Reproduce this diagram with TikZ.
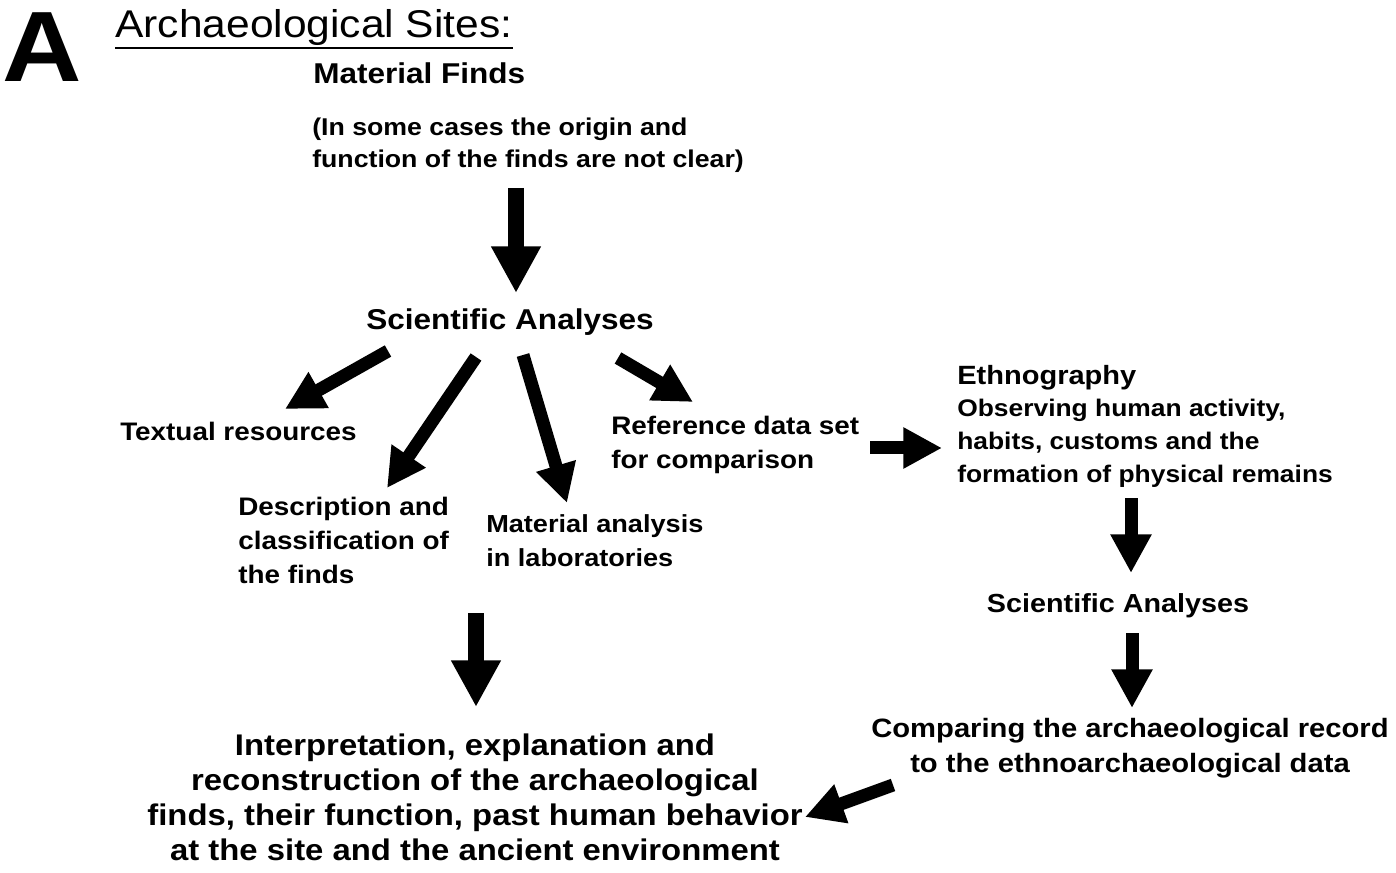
\documentclass[tikz,border=0pt]{standalone}
\usepackage{fontspec}
\setmainfont[FakeStretch=1.1]{Liberation Sans}
\usepackage{tikz}
\usetikzlibrary{arrows.meta}

\begin{document}
\begin{tikzpicture}[x=0.75pt,y=-0.75pt,
  txt node/.style={inner sep=0pt, anchor=west, align=left, font=\bfseries\fontsize{19}{25.5}\selectfont},
  head node/.style={inner sep=0pt, font=\bfseries\fontsize{21.5}{26}\selectfont},
  thin arrow/.style={line width=9.75pt, -{Triangle[length=29pt,width=29pt]}},
  fat arrow/.style={line width=12pt, -{Triangle[length=35pt,width=35pt]}}]
			\useasboundingbox (0,0) rectangle (1396,873);
			% Nodes
			\node[inner sep=0pt, font=\bfseries\fontsize{75}{75}\selectfont] (letter) at (42,47) {A};
			\node[inner sep=0pt, anchor=base west, font=\fontsize{29}{34}\selectfont] (sites) at (115,38) {Archaeological Sites:};
			\draw[line width=1.8pt] ([shift={(0,2)}]sites.south west) -- ([shift={(0,2)}]sites.south east);
			
			\node[head node, anchor=west] (finds) at (313,73) {Material Finds};
			\node[txt node, font=\bfseries\fontsize{18.2}{24}\selectfont] (note) at (312,145) {(In some cases the origin and\\function of the finds are not clear)};
			\node[head node] (sci) at (510,322) {Scientific Analyses};
			
			\node[txt node] (text) at (120,431) {Textual resources};
			\node[txt node] (descr) at (238,540) {Description and\\classification of\\the finds};
			\node[txt node, font=\bfseries\fontsize{18.5}{25.5}\selectfont] (lab) at (486,541) {Material analysis\\in laboratories};
			\node[txt node] (ref) at (611,445) {Reference data set\\for comparison};
			
			\node[txt node, font=\bfseries\fontsize{19.8}{24}\selectfont] (ethno) at (957,378) {Ethnography};
			\node[txt node, font=\bfseries\fontsize{18}{24.75}\selectfont] (observe) at (957,443) {Observing human activity,\\habits, customs and the\\formation of physical remains};
			\node[inner sep=0pt, font=\bfseries\fontsize{19.6}{24}\selectfont] (sci2) at (1118,606) {Scientific Analyses};
			\node[inner sep=0pt, align=center, font=\bfseries\fontsize{19.9}{26.25}\selectfont] (compare) at (1130,748) {Comparing the archaeological record\\to the ethnoarchaeological data};
			
			\node[inner sep=0pt, align=center, font=\bfseries\fontsize{22.4}{26.25}\selectfont] (interp) at (475,797) {Interpretation, explanation and\\reconstruction of the archaeological\\finds, their function, past human behavior\\at the site and the ancient environment};
			
			% Arrows
			\draw[fat arrow] ([shift={(204,43)}]note.west) -- ([shift={(6,-29)}]sci.center);
			\draw[thin arrow] ([shift={(-122,29)}]sci.center) -- ([shift={(165,-22)}]text.west);
			\draw[thin arrow] ([shift={(-34,35)}]sci.center) -- ([shift={(149,-52)}]descr.west);
			\draw[thin arrow] ([shift={(13,33)}]sci.center) -- ([shift={(81,-38)}]lab.west);
			\draw[thin arrow] ([shift={(108,36)}]sci.center) -- ([shift={(82,-43)}]ref.west);
			\draw[thin arrow] ([shift={(259,3)}]ref.west) -- ([shift={(-15,5)}]observe.west);
			\draw[thin arrow] ([shift={(174,55)}]observe.west) -- ([shift={(13,-33)}]sci2.center);
			\draw[thin arrow] ([shift={(14,27)}]sci2.center) -- ([shift={(2,-40)}]compare.center);
			\draw[thin arrow] ([shift={(-237,37)}]compare.center) -- ([shift={(330,20)}]interp.center);
			\draw[fat arrow] ([shift={(-10,72)}]lab.west) -- ([shift={(1,-90)}]interp.center);
			
\end{tikzpicture}
\end{document}
